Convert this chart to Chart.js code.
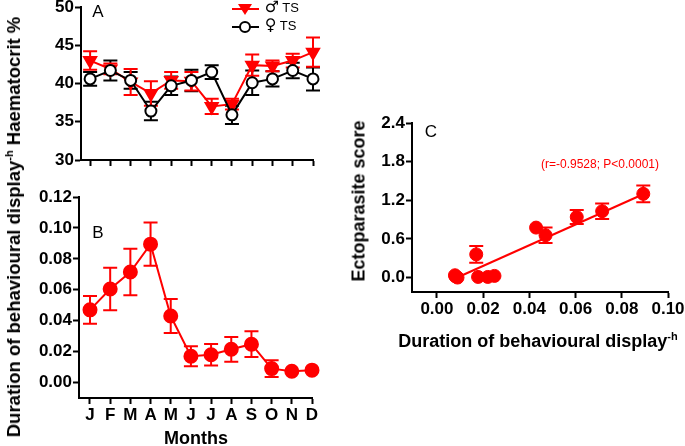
<!DOCTYPE html>
<html>
<head>
<meta charset="utf-8">
<script src="https://cdn.jsdelivr.net/npm/chart.js@4.4.0/dist/chart.umd.min.js"></script>
<style>
  html, body { margin: 0; padding: 0; background: #fff; }
  #wrap { position: relative; width: 685px; height: 446px; overflow: hidden;
          font-family: "Liberation Sans", Arial, sans-serif; color: #000; }
  #wrap canvas { position: absolute; left: -30px; top: -30px; }
  .t { position: absolute; white-space: nowrap; transform: translate(-50%, -50%); }
  .b { font-weight: bold; font-size: 18px; }
  .rot { transform: translate(-50%, -50%) rotate(-90deg); }
  .t sup { font-size: 11px; vertical-align: 7px; }
  .leg { position: absolute; left: 231px; font-size: 13px; height: 16px; line-height: 16px; }
  .leg svg { vertical-align: middle; }
  .sym { font-family: "DejaVu Sans", sans-serif; font-size: 16px; }
</style>
</head>
<body>
<div id="wrap">
  <canvas id="chartA" width="745" height="506"></canvas>
  <canvas id="chartB" width="745" height="506"></canvas>
  <canvas id="chartC" width="745" height="506"></canvas>

  <div class="t b rot" style="left:14px;top:227px;font-size:18.5px;">Duration of behavioural display<sup>-h</sup> Haematocrit %</div>
  <div class="t b" style="left:196px;top:438px;">Months</div>
  <div class="t b rot" style="left:359px;top:201px;">Ectoparasite score</div>
  <div class="t b" style="left:538px;top:341px;">Duration of behavioural display<sup>-h</sup></div>

  <div class="t" style="left:98px;top:12px;font-size:17px;">A</div>
  <div class="t" style="left:98px;top:233px;font-size:17px;">B</div>
  <div class="t" style="left:431px;top:132px;font-size:17px;">C</div>
  <div class="t" style="left:600px;top:164px;font-size:12px;color:#f00;">(r=-0.9528; P&lt;0.0001)</div>

  <div class="leg" style="top:-1px;">
    <svg width="30" height="16"><line x1="1" y1="8" x2="28" y2="8" stroke="#f00" stroke-width="2"/><polygon points="7,3 21,3 14,14" fill="#f00"/></svg>
    <span class="sym">♂</span> TS
  </div>
  <div class="leg" style="top:17px;">
    <svg width="30" height="16"><line x1="1" y1="8" x2="28" y2="8" stroke="#000" stroke-width="2"/><circle cx="14" cy="8" r="5" fill="#fff" stroke="#000" stroke-width="2"/></svg>
    <span class="sym">♀</span> TS
  </div>
</div>

<script>
// ---- data ----
const months = ['J', 'F', 'M', 'A', 'M', 'J', 'J', 'A', 'S', 'O', 'N', 'D'];

// A: haematocrit (%)
const maleHct   = [43.0, 41.9, 40.2, 38.7, 40.4, 40.3, 37.0, 37.3, 42.4, 42.3, 43.0, 44.1];
const maleErr   = [1.2, 0.7, 1.7, 1.6, 1.1, 1.2, 1.0, 0.7, 1.4, 0.7, 0.9, 1.9];
const femaleHct = [40.6, 41.7, 40.4, 36.4, 39.7, 40.4, 41.5, 35.9, 40.1, 40.6, 41.7, 40.6];
const femaleErr = [0.9, 1.3, 1.1, 1.2, 1.2, 1.4, 0.9, 1.2, 1.6, 1.0, 1.0, 1.5];

// B: duration of behavioural display
const displayDur = [0.047, 0.0605, 0.0715, 0.0895, 0.043, 0.017, 0.018, 0.0215, 0.0248, 0.009, 0.0073, 0.008];
const displayErr = [0.009, 0.0137, 0.015, 0.014, 0.011, 0.0065, 0.007, 0.008, 0.0083, 0.0054, 0, 0];

// C: ectoparasite score vs display duration
const ectoX   = [0.047, 0.0605, 0.0715, 0.0893, 0.0429, 0.017, 0.0178, 0.022, 0.0249, 0.0089, 0.0078, 0.008];
const ectoY   = [0.657, 0.94, 1.03, 1.30, 0.776, 0.36, 0.01, 0.01, 0.026, 0.0, 0.036, 0.02];
const ectoErr = [0.12, 0.11, 0.12, 0.13, 0, 0.13, 0, 0, 0, 0, 0, 0];
const fitX = [0.010, 0.089];
const fitY = [0.02, 1.29];

const yTicksA = [30, 35, 40, 45, 50];
const yTicksB = [0, 0.02, 0.04, 0.06, 0.08, 0.10, 0.12];
const xTicksC = [0, 0.02, 0.04, 0.06, 0.08, 0.10];
const yTicksC = [0, 0.6, 1.2, 1.8, 2.4];

const RED = '#ff0000';
const CW = 745, CH = 506, OFF = 30;
const tickFont = { family: 'Liberation Sans', size: 17, weight: 'bold' };

// error bars drawn under the markers
const errorBars = {
  id: 'errorBars',
  beforeDatasetsDraw(chart) {
    const ctx = chart.ctx;
    chart.data.datasets.forEach((ds, i) => {
      if (!ds.errors) return;
      const meta = chart.getDatasetMeta(i);
      const ys = chart.scales[meta.yAxisID];
      ctx.save();
      ctx.strokeStyle = ds.borderColor;
      ctx.lineWidth = 2;
      meta.data.forEach((pt, j) => {
        const e = ds.errors[j];
        if (!e) return;
        const v = ds.data[j].y;
        const top = ys.getPixelForValue(v + e);
        const bot = ys.getPixelForValue(v - e);
        ctx.beginPath();
        ctx.moveTo(pt.x, top); ctx.lineTo(pt.x, bot);
        ctx.moveTo(pt.x - 7, top); ctx.lineTo(pt.x + 7, top);
        ctx.moveTo(pt.x - 7, bot); ctx.lineTo(pt.x + 7, bot);
        ctx.stroke();
      });
      ctx.restore();
    });
  }
};

// padding so that the plot area lands at the wanted page box
function place(area, yW, xH) {
  return {
    left: area.l + OFF - yW,
    top: area.t + OFF,
    right: CW - (area.r + OFF),
    bottom: CH - (area.b + OFF) - xH
  };
}

function axis(min, max, ticks, fmt, extra) {
  return Object.assign({
    type: 'linear', min: min, max: max,
    border: { display: true, color: '#000', width: 2 },
    grid: { drawOnChartArea: false, drawTicks: true, tickLength: 6, tickWidth: 2, tickColor: '#000' },
    afterBuildTicks: s => { s.ticks = ticks.map(v => ({ value: v })); },
    ticks: { color: '#000', font: tickFont, padding: 1, autoSkip: false, maxRotation: 0, callback: fmt }
  }, extra);
}

const base = {
  responsive: false,
  animation: false,
  events: [],
  plugins: { legend: { display: false }, tooltip: { enabled: false } }
};

const monthIdx = months.map((m, i) => i);

// ---- A ----
new Chart(document.getElementById('chartA'), {
  type: 'line',
  data: {
    datasets: [{
      label: '♀ TS',
      data: monthIdx.map(i => ({ x: i, y: femaleHct[i] })),
      errors: femaleErr,
      borderColor: '#000', backgroundColor: '#fff', borderWidth: 2,
      pointStyle: 'circle', pointRadius: 5.5, pointBorderWidth: 2,
      order: 0, clip: false
    }, {
      label: '♂ TS',
      data: monthIdx.map(i => ({ x: i, y: maleHct[i] })),
      errors: maleErr,
      borderColor: RED, backgroundColor: RED, borderWidth: 2,
      pointStyle: 'triangle', pointRotation: 180, pointRadius: 7,
      order: 1, clip: false
    }]
  },
  options: Object.assign({}, base, {
    layout: { padding: place({ l: 81, t: 7, r: 313, b: 160 }, 40, 20) },
    scales: {
      x: axis(-0.45, 11, monthIdx, () => '', { afterFit: s => { s.height = 20; } }),
      y: axis(30, 50, yTicksA, v => String(v), { afterFit: s => { s.width = 40; } })
    }
  }),
  plugins: [errorBars]
});

// ---- B ----
new Chart(document.getElementById('chartB'), {
  type: 'line',
  data: {
    datasets: [{
      data: monthIdx.map(i => ({ x: i, y: displayDur[i] })),
      errors: displayErr,
      borderColor: RED, backgroundColor: RED, borderWidth: 2,
      pointRadius: 6.5, clip: false
    }]
  },
  options: Object.assign({}, base, {
    layout: { padding: place({ l: 79, t: 197, r: 312, b: 398 }, 45, 26) },
    scales: {
      x: axis(-0.545, 11, monthIdx, (v, i) => months[i], { afterFit: s => { s.height = 26; } }),
      y: axis(-0.01, 0.12, yTicksB, v => v.toFixed(2), { afterFit: s => { s.width = 45; } })
    }
  }),
  plugins: [errorBars]
});

// ---- C ----
new Chart(document.getElementById('chartC'), {
  type: 'scatter',
  data: {
    datasets: [{
      data: ectoX.map((x, i) => ({ x: x, y: ectoY[i] })),
      errors: ectoErr,
      borderColor: RED, backgroundColor: RED,
      pointRadius: 6.5, showLine: false, clip: false
    }, {
      type: 'line',
      data: fitX.map((x, i) => ({ x: x, y: fitY[i] })),
      borderColor: RED, borderWidth: 2, pointRadius: 0, fill: false
    }]
  },
  options: Object.assign({}, base, {
    layout: { padding: place({ l: 412, t: 123, r: 668, b: 292 }, 40, 26) },
    scales: {
      x: axis(-0.0108, 0.10, xTicksC, v => v.toFixed(2), { afterFit: s => { s.height = 26; } }),
      y: axis(-0.224, 2.4, yTicksC, v => v.toFixed(1), { afterFit: s => { s.width = 40; } })
    }
  }),
  plugins: [errorBars]
});
</script>
</body>
</html>
